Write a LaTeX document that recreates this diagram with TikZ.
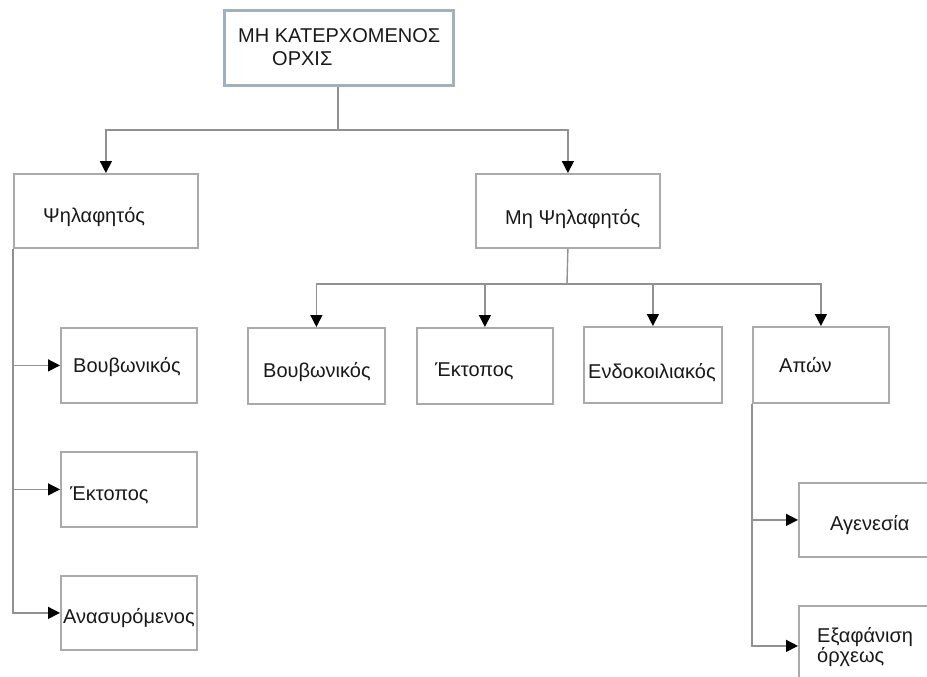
\documentclass[tikz,border=0pt]{standalone}
\usepackage{fontspec}
\setmainfont{Liberation Sans}
\usetikzlibrary{arrows.meta}
\definecolor{boxline}{RGB}{170,170,170}
\definecolor{conline}{RGB}{145,145,145}
\definecolor{topline}{RGB}{160,176,192}
\definecolor{txt}{RGB}{25,25,25}
\begin{document}
\begin{tikzpicture}[x=1pt,y=-1pt,
  box/.style={draw=boxline, line width=1.8pt, fill=white, rectangle, inner sep=0pt, anchor=north west},
  topbox/.style={draw=topline, line width=3pt, fill=white, rectangle, inner sep=0pt, anchor=north west},
  lbl/.style={anchor=base west, inner sep=0pt, text=txt, font=\fontsize{20}{24}\selectfont},
  conn/.style={draw=conline, line width=1.4pt},
  arr/.style={conn, -{Triangle[length=12pt,width=12pt,color=black]}}
]
\useasboundingbox (0,0) rectangle (927,677);
% boxes
\node[topbox, minimum width=229pt, minimum height=75pt] (top) at (223,9) {};
\node[box, minimum width=184pt, minimum height=74pt] (psi) at (13,173) {};
\node[box, minimum width=184pt, minimum height=74pt] (mpsi) at (475,173) {};
\node[box, minimum width=136pt, minimum height=75pt] (l1) at (60,327) {};
\node[box, minimum width=136pt, minimum height=75pt] (l2) at (60,451) {};
\node[box, minimum width=136pt, minimum height=74pt] (l3) at (60,575) {};
\node[box, minimum width=137pt, minimum height=76pt] (c1) at (247,327) {};
\node[box, minimum width=136pt, minimum height=76pt] (c2) at (416,327) {};
\node[box, minimum width=138pt, minimum height=76pt] (c3) at (583,326) {};
\node[box, minimum width=136pt, minimum height=76pt] (c4) at (752,326) {};
\node[box, minimum width=140pt, minimum height=74pt] (r1) at (798,482) {};
\node[box, minimum width=140pt, minimum height=80pt] (r2) at (798,605) {};
% labels
\node[lbl] (t1) at (238,43) {ΜΗ ΚΑΤΕΡΧΟΜΕΝΟΣ};
\node[lbl] (t2) at (272,66) {ΟΡΧΙΣ};
\node[lbl] (tpsi) at (43,222) {Ψηλαφητός};
\node[lbl] (tmpsi) at (505,224) {Μη Ψηλαφητός};
\node[lbl] (tl1) at (73,372) {Βουβωνικός};
\node[lbl] (tl2) at (70,500) {Έκτοπος};
\node[lbl] (tl3) at (63,623) {Ανασυρόμενος};
\node[lbl] (tc1) at (263,377) {Βουβωνικός};
\node[lbl] (tc2) at (435,376) {Έκτοπος};
\node[lbl] (tc3) at (588,378) {Ενδοκοιλιακός};
\node[lbl] (tc4) at (779,372) {Απών};
\node[lbl] (tr1) at (830,530) {Αγενεσία};
\node[lbl] (tr2a) at (817,642) {Εξαφάνιση};
\node[lbl] (tr2b) at (817,662) {όρχεως};
% junctions
\coordinate (j1) at (338,130);
\coordinate (j2) at (567,284);
% connectors
\draw[conn] (top.south -| j1) -- (j1);
\draw[arr] (j1) -| (psi.north);
\draw[arr] (j1) -| (mpsi.north);
\draw[conn] (mpsi.south) -- (j2);
\draw[arr] (j2) -| (c1.north);
\draw[arr] (j2) -| (c2.north);
\draw[arr] (j2) -| (c3.north);
\draw[arr] (j2) -| (c4.north);
\draw[arr] (psi.south west) |- (l3.west);
\draw[arr] (psi.south west) |- (l2.west);
\draw[arr] (psi.south west) |- (l1.west);
\draw[arr] (c4.south west) |- (r2.west);
\draw[arr] (c4.south west) |- (r1.west);
\end{tikzpicture}
\end{document}
